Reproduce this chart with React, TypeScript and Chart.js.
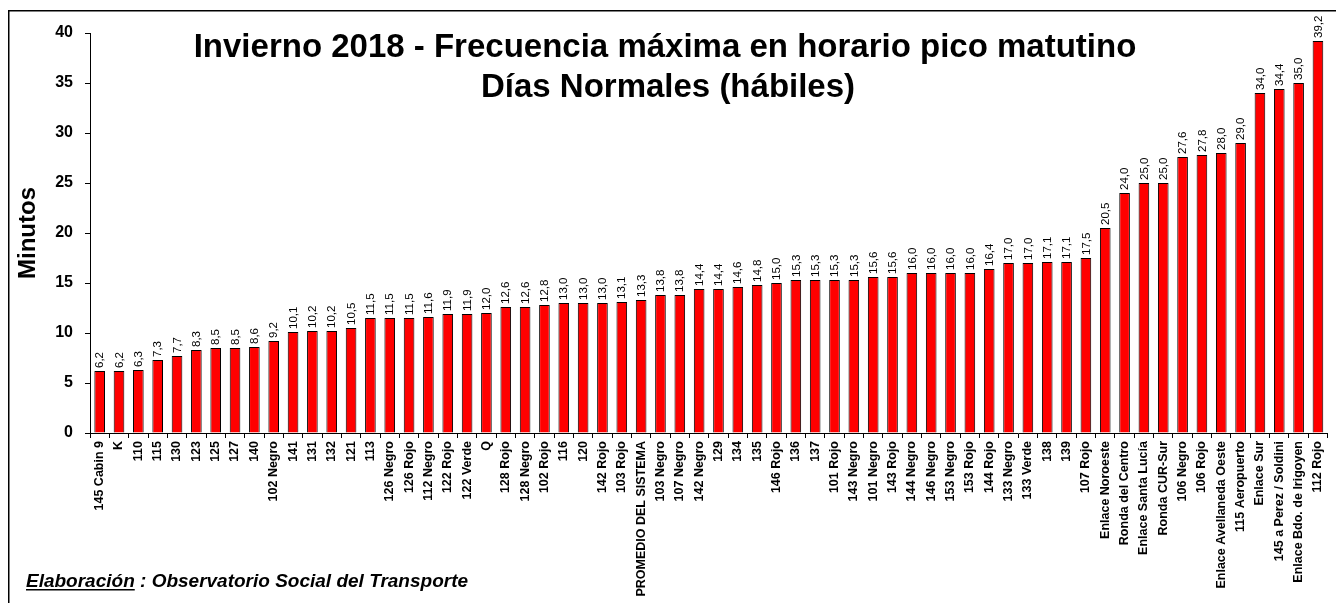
import React, { useEffect, useRef } from "react";
import { Chart, registerables } from "chart.js";

Chart.register(...registerables);

const categories: string[] = [
  "145 Cabin 9", "K", "110", "115", "130", "123", "125", "127", "140", "102 Negro",
  "141", "131", "132", "121", "113", "126 Negro", "126 Rojo", "112 Negro", "122 Rojo", "122 Verde",
  "Q", "128 Rojo", "128 Negro", "102 Rojo", "116", "120", "142 Rojo", "103 Rojo", "PROMEDIO DEL SISTEMA", "103 Negro",
  "107 Negro", "142 Negro", "129", "134", "135", "146 Rojo", "136", "137", "101 Rojo", "143 Negro",
  "101 Negro", "143 Rojo", "144 Negro", "146 Negro", "153 Negro", "153 Rojo", "144 Rojo", "133 Negro", "133 Verde", "138",
  "139", "107 Rojo", "Enlace Noroeste", "Ronda del Centro", "Enlace Santa Lucía", "Ronda CUR-Sur", "106 Negro", "106 Rojo", "Enlace Avellaneda Oeste", "115 Aeropuerto",
  "Enlace Sur", "145 a Perez / Soldini", "Enlace Bdo. de Irigoyen", "112 Rojo",
];

const minutos: number[] = [
  6.2, 6.2, 6.3, 7.3, 7.7, 8.3, 8.5, 8.5, 8.6, 9.2,
  10.1, 10.2, 10.2, 10.5, 11.5, 11.5, 11.5, 11.6, 11.9, 11.9,
  12.0, 12.6, 12.6, 12.8, 13.0, 13.0, 13.0, 13.1, 13.3, 13.8,
  13.8, 14.4, 14.4, 14.6, 14.8, 15.0, 15.3, 15.3, 15.3, 15.3,
  15.6, 15.6, 16.0, 16.0, 16.0, 16.0, 16.4, 17.0, 17.0, 17.1,
  17.1, 17.5, 20.5, 24.0, 25.0, 25.0, 27.6, 27.8, 28.0, 29.0,
  34.0, 34.4, 35.0, 39.2,
];

const titleLines: string[] = [
  "Invierno 2018 - Frecuencia máxima en horario pico matutino",
  "Días Normales (hábiles)",
];
const yAxisTitle = "Minutos";
const footerLabel = "Elaboración";
const footerText = " : Observatorio Social del Transporte";

const FONT = "Arial, 'Liberation Sans', Helvetica, sans-serif";

const decorPlugin = {
  id: "decor",
  beforeDraw(chart: any) {
    const ctx = chart.ctx;
    ctx.save();
    ctx.fillStyle = "#ffffff";
    ctx.fillRect(0, 0, chart.width, chart.height);
    ctx.strokeStyle = "#000000";
    ctx.lineWidth = 1.5;
    ctx.strokeRect(8.75, 10.75, chart.width + 50, chart.height + 50);
    ctx.restore();
  },
  afterDatasetsDraw(chart: any) {
    const ctx = chart.ctx;
    const meta = chart.getDatasetMeta(0);
    const data = chart.data.datasets[0].data as number[];
    ctx.save();
    ctx.fillStyle = "#000000";
    ctx.font = `11.5px ${FONT}`;
    ctx.textAlign = "left";
    ctx.textBaseline = "middle";
    meta.data.forEach((el: any, i: number) => {
      const txt = data[i].toFixed(1).replace(".", ",");
      ctx.save();
      ctx.translate(el.x + 0.5, el.y - 3);
      ctx.rotate(-Math.PI / 2);
      ctx.fillText(txt, 0, 0);
      ctx.restore();
    });
    ctx.restore();
  },
  afterDraw(chart: any) {
    const ctx = chart.ctx;
    ctx.save();
    ctx.fillStyle = "#000000";
    ctx.textAlign = "center";
    ctx.textBaseline = "alphabetic";
    ctx.font = `bold 33px ${FONT}`;
    const cx = 665;
    ctx.fillText(titleLines[0], cx, 57);
    ctx.fillText(titleLines[1], cx + 3, 97);

    ctx.textAlign = "left";
    ctx.font = `italic bold 19px ${FONT}`;
    const fx = 26;
    const fy = 587;
    ctx.fillText(footerLabel, fx, fy);
    const w = ctx.measureText(footerLabel).width;
    ctx.fillRect(fx, fy + 2, w, 1.5);
    ctx.fillText(footerText, fx + w, fy);
    ctx.restore();
  },
};

export default function App() {
  const canvasRef = useRef<HTMLCanvasElement | null>(null);

  useEffect(() => {
    document.body.style.margin = "0";
    const canvas = canvasRef.current;
    if (!canvas) return;
    const chart = new Chart(canvas, {
      type: "bar",
      data: {
        labels: categories,
        datasets: [
          {
            data: minutos,
            backgroundColor: "#ff0000",
            borderColor: "#000000",
            borderWidth: 1,
            barPercentage: 0.55,
            categoryPercentage: 1,
          },
        ],
      },
      options: {
        responsive: false,
        animation: false,
        devicePixelRatio: 1,
        layout: { padding: { left: 0, right: 6, top: 33, bottom: 0 } },
        plugins: {
          legend: { display: false },
          tooltip: { enabled: false },
          title: { display: false },
        },
        scales: {
          x: {
            grid: {
              display: true,
              drawOnChartArea: false,
              drawTicks: true,
              tickLength: 5,
              color: "#000000",
              offset: true,
            },
            border: { display: true, color: "#000000", width: 1 },
            ticks: {
              autoSkip: false,
              minRotation: 90,
              maxRotation: 90,
              padding: 3,
              color: "#000000",
              font: { family: FONT, size: 12.5, weight: "bold" },
            },
            afterFit(scale: any) {
              scale.height = 170;
            },
          },
          y: {
            min: 0,
            max: 40,
            grid: {
              display: true,
              drawOnChartArea: false,
              drawTicks: true,
              tickLength: 5,
              color: "#000000",
            },
            border: { display: true, color: "#000000", width: 1 },
            ticks: {
              stepSize: 5,
              padding: 12,
              color: "#000000",
              font: { family: FONT, size: 16, weight: "bold" },
            },
            title: {
              display: true,
              text: yAxisTitle,
              color: "#000000",
              font: { family: FONT, size: 24, weight: "bold" },
              padding: { top: 14, bottom: 0 },
            },
            afterFit(scale: any) {
              scale.width = 90;
            },
          },
        },
      },
      plugins: [decorPlugin],
    });
    return () => chart.destroy();
  }, []);

  return (
    <div style={{ width: 1336, height: 603, overflow: "hidden" }}>
      <canvas ref={canvasRef} width={1336} height={603} style={{ display: "block", width: 1336, height: 603 }} />
    </div>
  );
}
